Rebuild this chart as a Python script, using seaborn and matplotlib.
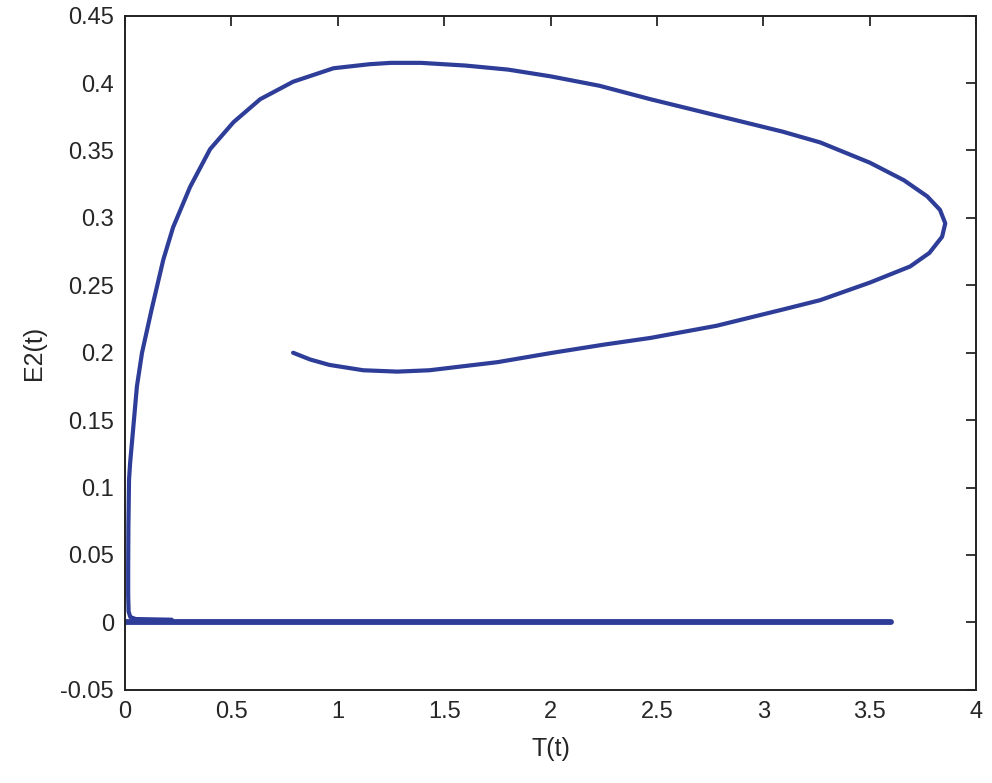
import numpy as np
import pandas as pd
import matplotlib
matplotlib.use("Agg")
import matplotlib.pyplot as plt
import seaborn as sns

# trajectory in the (T, E2) plane
T_path = [0.79, 0.87, 0.96, 1.12, 1.28, 1.43, 1.59, 1.75, 2.01, 2.25, 2.47,
          2.78, 3.09, 3.267, 3.50, 3.69, 3.78, 3.84, 3.855, 3.83, 3.77,
          3.66, 3.50, 3.267, 3.09, 2.78, 2.47, 2.23, 2.00, 1.80, 1.60, 1.39,
          1.25, 1.15, 0.98, 0.79, 0.635, 0.51, 0.40, 0.306, 0.226, 0.18,
          0.125, 0.08, 0.056, 0.042, 0.024, 0.019, 0.016, 0.015, 0.015,
          0.017, 0.025, 0.05, 0.22]
E2_path = [0.200, 0.195, 0.191, 0.187, 0.186, 0.187, 0.190, 0.193, 0.200,
           0.206, 0.211, 0.220, 0.232, 0.239, 0.252, 0.264, 0.274, 0.286,
           0.296, 0.306, 0.316, 0.328, 0.341, 0.356, 0.364, 0.376, 0.388,
           0.398, 0.405, 0.410, 0.413, 0.415, 0.415, 0.414, 0.411, 0.401,
           0.388, 0.371, 0.351, 0.323, 0.293, 0.269, 0.232, 0.200, 0.175,
           0.150, 0.118, 0.106, 0.071, 0.040, 0.020, 0.008, 0.004, 0.0025,
           0.002]

# equilibrium branch along E2 = 0
T_base = [0.0, 3.6]
E2_base = [0.0, 0.0]

x_ticks = [0, 0.5, 1, 1.5, 2, 2.5, 3, 3.5, 4]
y_ticks = [-0.05, 0, 0.05, 0.1, 0.15, 0.2, 0.25, 0.3, 0.35, 0.4, 0.45]

sns.set_style("white")
plt.rcParams["font.family"] = ["Liberation Sans", "DejaVu Sans"]
plt.rcParams["xtick.direction"] = "in"
plt.rcParams["ytick.direction"] = "in"

line_color = "#2E3D98"

fig = plt.figure(figsize=(9.92, 7.83), dpi=100)
ax = fig.add_axes([0.126, 0.119, 0.858, 0.861])

path_df = pd.DataFrame({"T": T_path, "E2": E2_path})
base_df = pd.DataFrame({"T": T_base, "E2": E2_base})

sns.lineplot(data=base_df, x="T", y="E2", sort=False, color=line_color,
             lw=4.2, ax=ax, estimator=None)
sns.lineplot(data=path_df, x="T", y="E2", sort=False, color=line_color,
             lw=3.0, ax=ax, estimator=None)
for ln in ax.get_lines():
    ln.set_solid_joinstyle("round")
    ln.set_solid_capstyle("round")

ax.set_xlim(0, 4)
ax.set_ylim(-0.05, 0.45)
ax.set_xticks(x_ticks)
ax.set_yticks(y_ticks)
ax.set_xticklabels([f"{t:g}" for t in x_ticks])
ax.set_yticklabels([f"{t:g}" for t in y_ticks])
ax.tick_params(axis="both", which="both", labelsize=17, length=7, width=1.3,
               top=True, right=True, pad=8)
for sp in ax.spines.values():
    sp.set_visible(True)
    sp.set_color("#222222")
    sp.set_linewidth(1.4)

ax.set_xlabel("T(t)", fontsize=18, labelpad=10)
ax.set_ylabel("E2(t)", fontsize=18, labelpad=10)

fig.savefig("out.png", dpi=100, facecolor="white")
